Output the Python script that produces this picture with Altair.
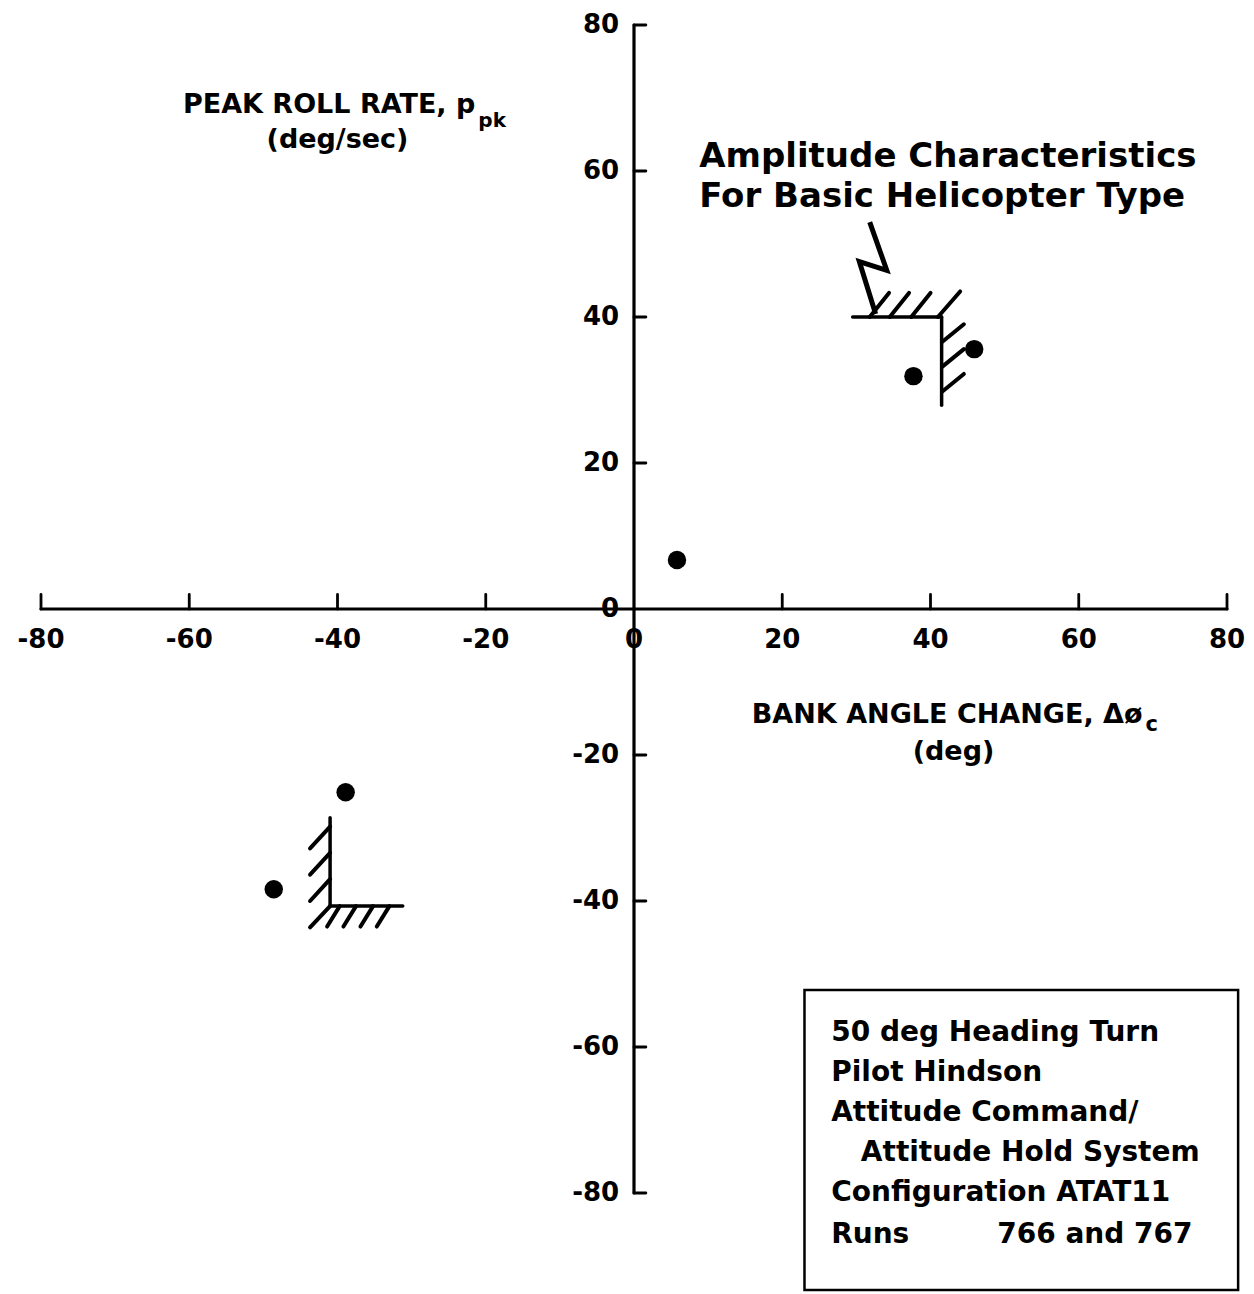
import altair as alt
import pandas as pd

# ---- data ----
bank_angle = [5.8, 37.7, 45.9, -38.9, -48.6]
roll_rate = [6.7, 31.9, 35.6, -25.1, -38.4]

x_ticks = [-80, -60, -40, -20, 0, 20, 40, 60, 80]
y_ticks = [80, 60, 40, 20, 0, -20, -40, -60, -80]

# boundary lines (x1, y1, x2, y2) of the amplitude characteristics
bound_x1 = [29.5, 41.5, -41.0, -41.0]
bound_y1 = [40.0, 40.0, -28.6, -40.7]
bound_x2 = [41.5, 41.5, -41.0, -31.2]
bound_y2 = [40.0, 27.9, -40.7, -40.7]

# hatch strokes (x1, y1, x2, y2)
hatch_x1 = [31.8, 34.5, 37.4, 41.0, 41.6, 41.6, 41.6,
            -41.0, -41.0, -41.0, -41.0, -39.7, -37.5, -35.2, -33.0]
hatch_y1 = [40.0, 40.0, 40.0, 40.0, 36.6, 33.2, 29.8,
            -29.8, -33.4, -37.0, -40.7, -40.7, -40.7, -40.7, -40.7]
hatch_x2 = [34.4, 37.1, 40.0, 44.0, 44.5, 44.5, 44.5,
            -43.7, -43.7, -43.7, -43.7, -41.4, -39.2, -36.9, -34.7]
hatch_y2 = [43.3, 43.3, 43.3, 43.5, 39.0, 35.6, 32.2,
            -32.8, -36.4, -40.0, -43.6, -43.5, -43.5, -43.5, -43.5]

# lightning-bolt pointer from the annotation to the boundary
bolt_x = [31.8, 34.1, 30.4, 32.6]
bolt_y = [53.0, 46.4, 47.6, 40.4]

title_text = ["Amplitude Characteristics", "For Basic Helicopter Type"]
title_x = [8.8, 8.8]
title_y = [61.9, 56.4]

box_lines = ["50 deg Heading Turn", "Pilot Hindson", "Attitude Command/",
             "Attitude Hold System", "Configuration ATAT11", "Runs", "766 and 767"]
box_line_x = [26.6, 26.6, 26.6, 30.6, 26.6, 26.6, 49.0]
box_line_y = [-58.1, -63.5, -69.0, -74.5, -80.0, -85.7, -85.7]
box_x = [23.0]
box_x2 = [81.5]
box_y = [-52.2]
box_y2 = [-93.3]

FONT = "DejaVu Sans"

xs = alt.Scale(domain=[-80, 80], nice=False, zero=False)
ys = alt.Scale(domain=[-80, 80], nice=False, zero=False)


def seg_chart(df, width):
    return alt.Chart(df).mark_rule(color="black", strokeWidth=width, strokeCap="round").encode(
        x=alt.X("x1:Q", scale=xs, axis=None), y=alt.Y("y1:Q", scale=ys, axis=None),
        x2="x2:Q", y2="y2:Q")


axes_df = pd.DataFrame({"x1": [-80, 0], "y1": [0, -80], "x2": [80, 0], "y2": [0, 80]})
xt = [t for t in x_ticks if t != 0]
xtick_df = pd.DataFrame({"x1": xt, "y1": [0] * len(xt), "x2": xt, "y2": [2.0] * len(xt)})
yt = [t for t in y_ticks if t != 0]
ytick_df = pd.DataFrame({"x1": [0] * len(yt), "y1": yt, "x2": [1.6] * len(yt), "y2": yt})
bound_df = pd.DataFrame({"x1": bound_x1, "y1": bound_y1, "x2": bound_x2, "y2": bound_y2})
hatch_df = pd.DataFrame({"x1": hatch_x1, "y1": hatch_y1, "x2": hatch_x2, "y2": hatch_y2})

layers = [
    seg_chart(axes_df, 3.2),
    seg_chart(xtick_df, 2.8),
    seg_chart(ytick_df, 2.8),
    seg_chart(bound_df, 3.5),
    seg_chart(hatch_df, 4),
]

bolt_df = pd.DataFrame({"x": bolt_x, "y": bolt_y, "o": list(range(len(bolt_x)))})
layers.append(alt.Chart(bolt_df).mark_line(color="black", strokeWidth=5, strokeJoin="miter").encode(
    x=alt.X("x:Q", scale=xs, axis=None), y=alt.Y("y:Q", scale=ys, axis=None), order="o:Q"))

pts_df = pd.DataFrame({"bank": bank_angle, "roll": roll_rate})
layers.append(alt.Chart(pts_df).mark_circle(color="black", opacity=1, size=340).encode(
    x=alt.X("bank:Q", scale=xs, axis=None), y=alt.Y("roll:Q", scale=ys, axis=None)))


def text_layer(texts, xv, yv, align="left", size=26, weight="bold"):
    df = pd.DataFrame({"x": xv, "y": yv, "t": texts})
    return alt.Chart(df).mark_text(font=FONT, fontSize=size, align=align, baseline="middle",
                                   fontWeight=weight).encode(
        x=alt.X("x:Q", scale=xs, axis=None), y=alt.Y("y:Q", scale=ys, axis=None), text="t:N")


# tick labels
layers.append(text_layer([str(v) for v in x_ticks], x_ticks, [-4.3] * len(x_ticks),
                         align="center", size=26))
layers.append(text_layer([str(v) for v in y_ticks], [-2.0] * len(y_ticks), y_ticks,
                         align="right", size=26))

# axis titles
layers.append(text_layer(["PEAK ROLL RATE, p"], [-21.4], [69.0], align="right", size=27))
layers.append(text_layer(["pk"], [-21.0], [66.8], align="left", size=20))
layers.append(text_layer(["(deg/sec)"], [-40.0], [64.2], align="center", size=27))
layers.append(text_layer(["BANK ANGLE CHANGE, Δø"], [68.6], [-14.5], align="right", size=27))
layers.append(text_layer(["c"], [69.0], [-15.9], align="left", size=21))
layers.append(text_layer(["(deg)"], [43.1], [-19.6], align="center", size=27))

# annotation
layers.append(text_layer(title_text, title_x, title_y, align="left", size=34))

# info box
box_df = pd.DataFrame({"x": box_x, "x2": box_x2, "y": box_y, "y2": box_y2})
layers.append(alt.Chart(box_df).mark_rect(fill=None, fillOpacity=0, stroke="black", strokeWidth=2.5).encode(
    x=alt.X("x:Q", scale=xs, axis=None), x2="x2:Q",
    y=alt.Y("y:Q", scale=ys, axis=None), y2="y2:Q"))
layers.append(text_layer(box_lines, box_line_x, box_line_y, align="left", size=28))

chart = alt.layer(*layers).properties(
    width=1186, height=1168,
    background="white",
    autosize=alt.AutoSizeParams(type="none"),
    padding={"left": 33, "top": 17, "right": 19, "bottom": 100},
).configure_view(stroke=None)

chart.save("out.html", embed_options={"renderer": "svg", "actions": False})
